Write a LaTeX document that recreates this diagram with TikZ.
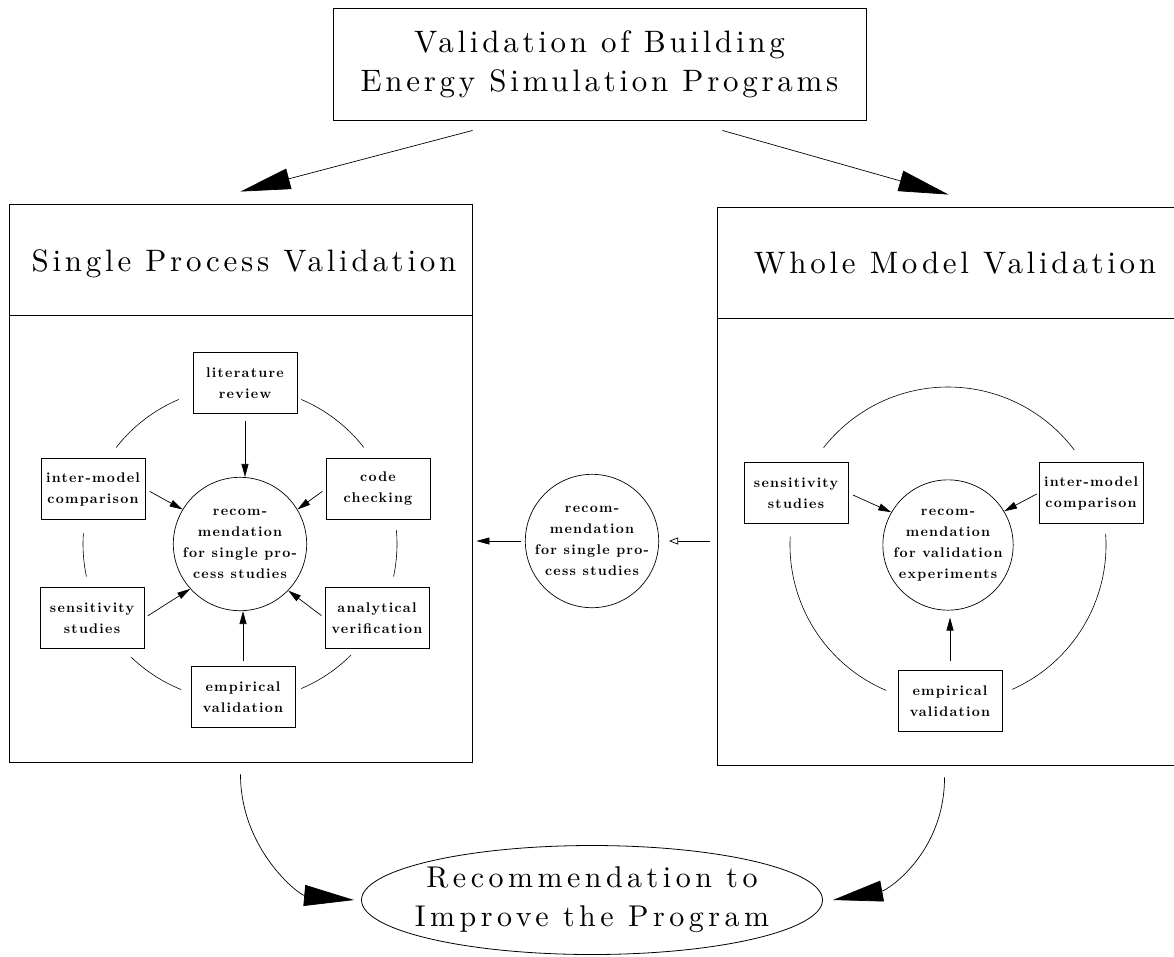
\documentclass[tikz,border=0pt]{standalone}
\usepackage{fontspec}
\usepackage{tikz}
\usetikzlibrary{arrows.meta, calc, positioning, shapes.geometric}

\newfontfamily\headfamily{lmroman10-regular}[Extension=.otf, LetterSpace=12]
\newfontfamily\resultfamily{lmroman10-regular}[Extension=.otf, LetterSpace=15]
\newfontfamily\boxfamily{lmroman10-bold}[Extension=.otf, LetterSpace=9]
\newcommand{\headfont}{\headfamily\fontsize{31}{39}\selectfont}
\newcommand{\resultfont}{\resultfamily\fontsize{30}{39}\selectfont}
\newcommand{\boxfont}{\boxfamily\fontsize{14}{21}\selectfont}

\begin{document}
\begin{tikzpicture}[x=1pt, y=-1pt,
        panel/.style={draw, line width=0.9pt, minimum width=463pt, minimum height=558pt, inner sep=0pt},
        taskbox/.style={draw, line width=0.8pt, minimum width=104pt, minimum height=61pt, inner sep=0pt, align=center, font=\boxfont},
        recnode/.style={draw, circle, line width=0.7pt, minimum size=130pt, inner sep=0pt, align=center, font=\boxfont},
        loopline/.style={line width=0.6pt},
        smallarrow/.style={line width=0.7pt, -{Triangle[length=13pt, width=7pt]}, shorten <=5pt},
        bigarrow/.style={line width=0.7pt, -{Triangle[length=50pt, width=21pt]}}]
    \useasboundingbox (0,0) rectangle (1174,956);

    \node[draw, line width=0.9pt, minimum width=533pt, minimum height=112pt, align=center, font=\headfont] (programs) at (599.5,64) {Validation of Building\\Energy Simulation Programs};

    % the two panels
    \node[panel] (spv) at (240.5,483) {};
    \node[panel] (wmv) at (948.5,486) {};
    \draw[line width=0.9pt] ([yshift=-112pt]spv.north west) -- ([yshift=-112pt]spv.north east);
    \draw[line width=0.9pt] ([yshift=-112pt]wmv.north west) -- ([yshift=-112pt]wmv.north east);
    \node[anchor=base, font=\headfont] (spvtitle) at (244,271) {Single Process Validation};
    \node[anchor=base, font=\headfont] (wmvtitle) at (955,273) {Whole Model Validation};

    \draw[bigarrow] ([xshift=-127pt, yshift=-10pt]programs.south) -- ([yshift=12pt]spv.north);
    \draw[bigarrow] ([xshift=123pt, yshift=-10pt]programs.south) -- ([yshift=12pt]wmv.north);

    % single process validation
    \node[recnode] (recspv) at (240,544) {recom-\\mendation\\for single pro-\\cess studies};
    \node[taskbox] (litrev) at (245,383) {literature\\review};
    \node[taskbox] (intermodel) at (93,489) {inter-model\\comparison};
    \node[taskbox] (codecheck) at (378,489) {code\\checking};
    \node[taskbox] (sensitivity) at (92,618) {sensitivity\\studies};
    \node[taskbox] (analytical) at (377,618) {analytical\\verification};
    \node[taskbox] (empirical) at (243,697) {empirical\\validation};

    \foreach \a/\b in {-67/-38, -142/-113, -5/12, -192/-176, 45/67, -248/-226}
        \draw[loopline] (recspv.center) ++(\a:157) arc[start angle=\a, end angle=\b, radius=157];

    \draw[smallarrow, shorten <=7pt] (litrev.south) -- (litrev.south |- recspv.north);
    \draw[smallarrow] (empirical.north) -- (empirical.north |- recspv.south);
    \draw[smallarrow] (intermodel.east) -- (recspv.149);
    \draw[smallarrow, shorten <=4pt] (codecheck.west) -- (recspv.31);
    \draw[smallarrow, shorten <=4pt] (sensitivity.east) -- (recspv.222);
    \draw[smallarrow, shorten <=4pt] (analytical.west) -- (recspv.316);

    % whole model validation
    \node[recnode] (recwmv) at (948,545) {recom-\\mendation\\for validation\\experiments};
    \node[taskbox] (wsens) at (796,493) {sensitivity\\studies};
    \node[taskbox] (wintermodel) at (1091,493) {inter-model\\comparison};
    \node[taskbox] (wempirical) at (950,701) {empirical\\validation};

    \foreach \a/\b in {-142/-37, -247/-177, -4/66}
        \draw[loopline] (recwmv.center) ++(\a:158) arc[start angle=\a, end angle=\b, radius=158];

    \draw[smallarrow] (wsens.east) -- (recwmv.150);
    \draw[smallarrow, shorten <=2pt] (wintermodel.west) -- (recwmv.31);
    \draw[smallarrow, shorten <=9pt, shorten >=7pt] (wempirical.north) -- (wempirical.north |- recwmv.south);

    % passed on between the panels
    \node[recnode, minimum size=128pt] (recmid) at (592,541) {recom-\\mendation\\for single pro-\\cess studies};
    \draw[smallarrow, shorten <=4pt, shorten >=4pt] (recmid.west) -- (recmid.west -| spv.east);
    \draw[line width=0.7pt, -{Triangle[open, length=9pt, width=7pt]}, shorten <=7pt, shorten >=10pt] (recmid.east -| wmv.west) -- (recmid.east);

    % result
    \node[draw, ellipse, line width=0.8pt, minimum width=461pt, minimum height=109pt, inner xsep=-20pt, inner ysep=0pt, align=center, font=\resultfont] (improve) at (592,900) {Recommendation to\\Improve the Program};
    \draw[bigarrow] ([yshift=-12pt]spv.south) .. controls +(0,75) and +(-55,-5) .. ([xshift=-7pt]improve.west);
    \draw[bigarrow] ([xshift=-4pt, yshift=-12pt]wmv.south) .. controls +(0,75) and +(55,-10) .. ([xshift=10pt]improve.east);
\end{tikzpicture}
\end{document}
